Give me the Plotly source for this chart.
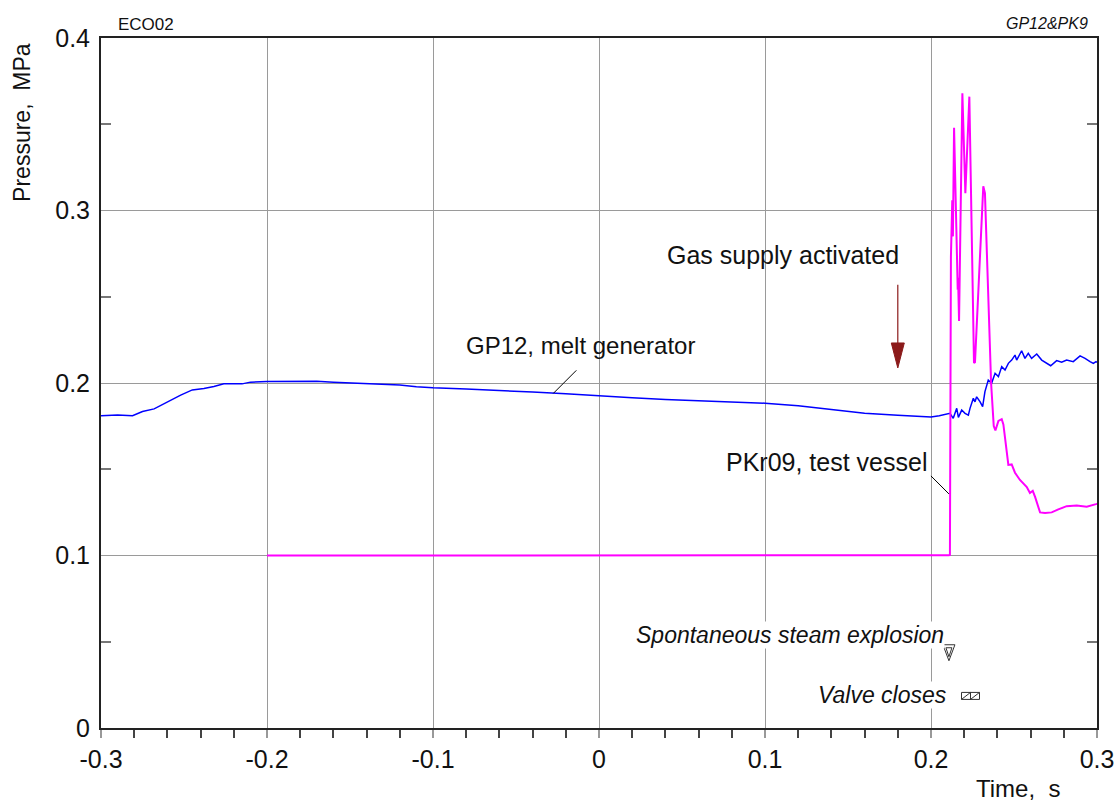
import plotly.graph_objects as go

# ---------------- data ----------------
gp12_t = [-0.3, -0.29, -0.281, -0.275, -0.268, -0.26, -0.252, -0.245, -0.238, -0.232, -0.226,
          -0.215, -0.21, -0.2, -0.19, -0.18, -0.17, -0.16, -0.15, -0.14, -0.13, -0.12, -0.11,
          -0.1, -0.08, -0.06, -0.04, -0.02, 0.0, 0.02, 0.04, 0.06, 0.08, 0.1, 0.12, 0.14, 0.16,
          0.18, 0.19, 0.2, 0.205, 0.2114, 0.2134, 0.2155, 0.2165, 0.2185, 0.2205, 0.2225, 0.2235,
          0.2255, 0.2265, 0.2275, 0.2295, 0.2311, 0.2325, 0.2345, 0.2365, 0.2386, 0.2406, 0.2426,
          0.2446, 0.2466, 0.2486, 0.2506, 0.2516, 0.2546, 0.2566, 0.2586, 0.2606, 0.2637, 0.2667,
          0.2697, 0.2721, 0.2757, 0.2787, 0.2817, 0.2857, 0.2898, 0.2928, 0.2958, 0.2978, 0.2994, 0.3]
gp12_p = [0.181, 0.1815, 0.181, 0.1835, 0.185, 0.189, 0.193, 0.196, 0.1968, 0.198, 0.1995,
          0.1995, 0.2005, 0.2008, 0.201, 0.2008, 0.201, 0.2004, 0.2, 0.1996, 0.1993, 0.1988, 0.1978,
          0.1972, 0.1965, 0.1958, 0.1948, 0.1938, 0.1925, 0.1915, 0.1905, 0.1898, 0.1892, 0.1883,
          0.1868, 0.1848, 0.1825, 0.1813, 0.1808, 0.1803, 0.181, 0.1824, 0.1795, 0.1853, 0.1801,
          0.1843, 0.1824, 0.1814, 0.1853, 0.1911, 0.1891, 0.192, 0.1892, 0.1863, 0.195, 0.2017,
          0.1998, 0.2056, 0.2037, 0.2095, 0.2075, 0.2114, 0.2133, 0.2162, 0.2133, 0.2187, 0.2143,
          0.2172, 0.2143, 0.2168, 0.2133, 0.2114, 0.21, 0.213, 0.212, 0.2133, 0.2124, 0.2157,
          0.2143, 0.2124, 0.2114, 0.2124, 0.212]

pkr09_t = [-0.2, -0.15, -0.1, -0.05, 0.0, 0.05, 0.1, 0.15, 0.2, 0.2108, 0.2114, 0.2120, 0.2128,
           0.2132, 0.2139, 0.2157, 0.2161, 0.2163, 0.2169, 0.2189, 0.2207, 0.2231, 0.2259, 0.2265,
           0.2315, 0.2325, 0.2335, 0.2349, 0.2362, 0.2378, 0.2388, 0.2406, 0.2426, 0.2436, 0.2466,
           0.2486, 0.2506, 0.2536, 0.2577, 0.2596, 0.2613, 0.2627, 0.2657, 0.2687, 0.2727, 0.2767,
           0.2817, 0.2878, 0.2938, 0.2994, 0.3]
pkr09_p = [0.1, 0.1, 0.1, 0.1, 0.0998, 0.1, 0.1, 0.1, 0.1, 0.1002, 0.1003, 0.273, 0.306,
           0.285, 0.348, 0.264, 0.254, 0.261, 0.236, 0.368, 0.31, 0.366, 0.2116, 0.212,
           0.314, 0.31, 0.28, 0.232, 0.2, 0.175, 0.1725, 0.178, 0.179, 0.176, 0.1525,
           0.1528, 0.148, 0.1438, 0.1397, 0.1362, 0.1375, 0.134, 0.125, 0.1246, 0.125, 0.1267,
           0.1286, 0.129, 0.1283, 0.1298, 0.13]

x_tickvals = [-0.3, -0.2, -0.1, 0.0, 0.1, 0.2, 0.3]
x_ticktext = ["-0.3", "-0.2", "-0.1", "0", "0.1", "0.2", "0.3"]
y_tickvals = [0.0, 0.1, 0.2, 0.3, 0.4]
y_ticktext = ["0", "0.1", "0.2", "0.3", "0.4"]

# events
gas_time, gas_top, gas_head = 0.18, 0.257, 0.2232
explosion_time, explosion_mark_p = 0.2108, 0.0442
valve_time, valve_mark_p = 0.2238, 0.0186
gp12_leader = (-0.0275, 0.194)
pkr09_leader = (0.2108, 0.1357)

FONT = "Liberation Sans Narrow, Arial Narrow, Liberation Sans, Arial, sans-serif"
DARKRED = "#8b1a1a"
TXT = 25

fig = go.Figure()
fig.add_trace(go.Scatter(x=gp12_t, y=gp12_p, mode="lines", line=dict(color="#0000ff", width=1.5),
                         name="GP12"))
fig.add_trace(go.Scatter(x=pkr09_t, y=pkr09_p, mode="lines", line=dict(color="#ff00ff", width=2),
                         name="PKr09"))

shapes = [
    dict(type="line", xref="x", yref="y", x0=gas_time, x1=gas_time, y0=gas_top, y1=gas_head,
         line=dict(color=DARKRED, width=1.2)),
    dict(type="path", xref="x", yref="y", xsizemode="pixel", ysizemode="pixel",
         xanchor=gas_time, yanchor=gas_head, path="M -6.5,0 L 6.5,0 L 0,-25 Z",
         fillcolor=DARKRED, line=dict(color=DARKRED, width=1)),
    dict(type="line", xref="x", yref="y", xsizemode="pixel", ysizemode="pixel",
         xanchor=gp12_leader[0], yanchor=gp12_leader[1], x0=0, x1=23, y0=0, y1=23,
         line=dict(color="black", width=1)),
    dict(type="line", xref="x", yref="y", xsizemode="pixel", ysizemode="pixel",
         xanchor=pkr09_leader[0], yanchor=pkr09_leader[1], x0=0, x1=-18, y0=0, y1=18,
         line=dict(color="black", width=1)),
    dict(type="path", xref="x", yref="y", xsizemode="pixel", ysizemode="pixel",
         xanchor=explosion_time, yanchor=explosion_mark_p,
         path="M -6,7 L 6,7 L 0,-9 Z M -3,4 L 3,4 L 0,-5 Z",
         line=dict(color="#333333", width=1)),
    dict(type="path", xref="x", yref="y", xsizemode="pixel", ysizemode="pixel",
         xanchor=valve_time, yanchor=valve_mark_p,
         path="M -9,-3.5 L 9,-3.5 L 9,3.5 L -9,3.5 Z M 0,-3.5 L 0,3.5 M -9,-3.5 L 0,3.5 M 0,-3.5 L 9,3.5",
         line=dict(color="#333333", width=1)),
]

annotations = [
    dict(text="ECO02", xref="paper", yref="paper", x=0.0447, y=1.019, xanchor="center", yanchor="middle",
         showarrow=False, font=dict(size=17, family=FONT, color="#111")),
    dict(text="<i>GP12&PK9</i>", xref="paper", yref="paper", x=0.993, y=1.021, xanchor="right",
         yanchor="middle", showarrow=False, font=dict(size=16, family=FONT, color="#111")),
    dict(text="Pressure,  MPa", xref="paper", yref="paper", x=-0.0793, y=0.877, textangle=-90,
         xanchor="center", yanchor="middle", showarrow=False,
         font=dict(size=23, family=FONT, color="#111")),
    dict(text="Time,  s", xref="paper", yref="paper", x=0.9207, y=-0.0884, xanchor="center",
         yanchor="middle", showarrow=False, font=dict(size=24, family=FONT, color="#111")),
    dict(text="Gas supply activated", xref="x", yref="y", x=0.111, y=0.274, showarrow=False,
         xanchor="center", yanchor="middle", font=dict(size=TXT, family=FONT, color="#111")),
    dict(text="GP12, melt generator", xref="x", yref="y", x=-0.011, y=0.222, showarrow=False,
         xanchor="center", yanchor="middle", font=dict(size=24, family=FONT, color="#111")),
    dict(text="PKr09, test vessel", xref="x", yref="y", x=0.137, y=0.154, showarrow=False,
         xanchor="center", yanchor="middle", font=dict(size=TXT, family=FONT, color="#111")),
    dict(text="<i>Spontaneous steam explosion</i>", xref="x", yref="y", x=0.2084, y=0.0539,
         xanchor="right", yanchor="middle", showarrow=False, bgcolor="white", borderpad=0,
         font=dict(size=23, family=FONT, color="#111")),
    dict(text="<i>Valve closes</i>", xref="x", yref="y", x=0.2105, y=0.0191,
         xanchor="right", yanchor="middle", showarrow=False, bgcolor="white", borderpad=0,
         font=dict(size=23, family=FONT, color="#111")),
]

fig.update_layout(
    width=1117, height=804,
    margin=dict(l=101, r=20, t=38, b=76, autoexpand=False),
    paper_bgcolor="white", plot_bgcolor="white",
    showlegend=False,
    font=dict(family=FONT, size=25, color="#111"),
    shapes=shapes, annotations=annotations,
)
fig.update_xaxes(
    range=[-0.3, 0.3], tickvals=x_tickvals, ticktext=x_ticktext, automargin=False,
    showgrid=True, gridcolor="#9a9a9a", gridwidth=1, zeroline=False,
    showline=True, linecolor="#222", linewidth=2, mirror=True,
    ticks="outside", ticklen=8, tickcolor="#999", tickwidth=1.5,
    minor=dict(dtick=0.02, ticks="outside", ticklen=8, tickcolor="#444", tickwidth=1.5, showgrid=False),
    tickfont=dict(size=25, family=FONT, color="#111"),
)
fig.update_yaxes(
    range=[0, 0.4], tickvals=y_tickvals, ticktext=y_ticktext, automargin=False,
    showgrid=True, gridcolor="#9a9a9a", gridwidth=1, zeroline=False,
    showline=True, linecolor="#222", linewidth=2, mirror="ticks",
    ticks="", ticklabelstandoff=4,
    minor=dict(tickvals=[0.05, 0.15, 0.25, 0.35], ticks="inside", ticklen=10, tickcolor="#777",
               tickwidth=1.5, showgrid=False),
    tickfont=dict(size=25, family=FONT, color="#111"),
)

fig.write_html("out.html")
